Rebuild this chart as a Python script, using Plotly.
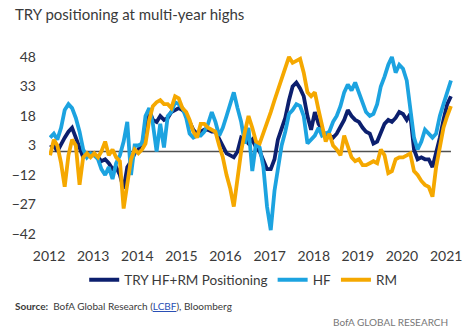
import pandas as pd
import plotly.graph_objects as go

# Monthly observations, Jan 2012 .. Feb 2021
dates = pd.date_range("2012-01-01", periods=110, freq="MS") + pd.Timedelta(days=9)

# TRY positioning, HF + RM composite
combined = [
    2, 3, 0, 4, 7, 10, 12, 7, 2, -3, -2, -1,            # 2012
    -2, -3, -5, -4, -6, -9, -8, -12, -19, -8, -5, -1,   # 2013
    1, 4, 12, 21, 16, 15, 18, 16, 17, 20, 21, 22,       # 2014
    21, 19, 15, 11, 9, 10, 11, 11, 10, 10, 6, 2,        # 2015
    -1, -2, -3, 0, 7, 6, 4, 6, 2, 0, -5, -9,            # 2016
    -9, -4, 6, 11, 17, 26, 33, 35, 32, 28, 18, 11,      # 2017
    20, 14, 11, 8, 8, 7, 9, 13, 16, 21, 18, 16,         # 2018
    15, 12, 10, 9, 4, 5, 9, 14, 16, 15, 17, 20,         # 2019
    19, 16, 19, 1, -4, -3, -4, -4, -8, -1, 7, 16,       # 2020
    24, 28,                                             # 2021
]

# Hedge funds
hf = [
    7, 9, 6, 12, 21, 24, 22, 17, 10, 1, -3, -1,         # 2012
    -2, -4, -9, -12, -8, -14, -6, -2, 5, 15, -12, 3,    # 2013
    3, 4, 18, 22, 14, 0, 14, 2, 18, 20, 25, 24,         # 2014
    22, 17, 9, 7, 8, 8, 10, 14, 20, 15, 8, 12,          # 2015
    18, 24, 30, 22, 15, 4, 12, -10, 4, 2, -8, -28,      # 2016
    -40, -20, -8, 3, 10, 19, 21, 24, 23, 18, 4, 6,      # 2017
    8, 12, 8, 9, 10, 15, 18, 23, 30, 34, 31, 35,        # 2018
    30, 24, 20, 18, 19, 24, 33, 38, 44, 48, 40, 44,     # 2019
    42, 36, 21, 7, 1, 5, 11, 9, 7, 9, 18, 24,           # 2020
    30, 36,                                             # 2021
]

# Real money
rm = [
    -2, 6, 3, -6, -18, -2, 6, 3, -17, -3, -1, -3,       # 2012
    -1, -3, 0, 5, -2, 1, -3, -5, -29, -15, -4, 1,       # 2013
    -1, 1, 4, 16, 23, 25, 26, 24, 24, 22, 28, 27,       # 2014
    22, 20, 16, 10, 7, 14, 14, 12, 11, 10, 3, -3,       # 2015
    -12, -19, -28, -12, 0, 10, 18, 12, 5, 4, 9, 14,     # 2016
    20, 26, 31, 38, 43, 48, 45, 46, 47, 40, 30, 28,     # 2017
    30, 21, 13, 5, 9, 3, 1, -2, 8, 2, -3, -5,           # 2018
    -4, -7, -7, -6, -5, -6, 1, -2, -11, -10, -4, -3,    # 2019
    -3, -2, -1, -10, -12, -15, -17, -18, -23, -8, 3, 12,  # 2020
    18, 23,                                             # 2021
]

y_ticks = [-42, -27, -12, 3, 18, 33, 48]
x_ticks = [f"{y}-01-01" for y in range(2012, 2022)]
x_tick_labels = [str(y) for y in range(2012, 2022)]

NAVY = "#0c1f6e"
SKY = "#1ca3e0"
GOLD = "#f5a800"
TEXT = "#3a3a3a"
FONT = "Lato"

fig = go.Figure()
fig.add_trace(go.Scatter(x=dates, y=combined, name="TRY HF+RM Positioning",
                         mode="lines", line=dict(color=NAVY, width=3.8)))
fig.add_trace(go.Scatter(x=dates, y=hf, name="HF",
                         mode="lines", line=dict(color=SKY, width=3.8)))
fig.add_trace(go.Scatter(x=dates, y=rm, name="RM",
                         mode="lines", line=dict(color=GOLD, width=3.8)))

# zero reference line spanning the data
fig.add_shape(type="line", xref="x", yref="y",
              x0=dates[0], x1=dates[-1], y0=0, y1=0,
              line=dict(color="#505050", width=1.5), layer="below")

fig.update_layout(
    width=474, height=330,
    margin=dict(l=45, r=13, t=53, b=92),
    paper_bgcolor="white", plot_bgcolor="white",
    font=dict(family=FONT, size=14, color=TEXT),
    showlegend=True,
    legend=dict(orientation="h", xanchor="center", x=0.476,
                yanchor="middle", y=-0.227, font=dict(size=13.5, color=TEXT),
                itemwidth=30, tracegroupgap=0, bgcolor="rgba(0,0,0,0)"),
    xaxis=dict(type="date", range=["2012-01-01", "2021-04-01"],
               tickvals=x_ticks, ticktext=x_tick_labels,
               showgrid=False, zeroline=False, showline=False,
               ticks="", ticklabelstandoff=8,
               tickfont=dict(size=14, color=TEXT)),
    yaxis=dict(range=[-44, 50], tickvals=y_ticks,
               showgrid=False, zeroline=False, showline=False,
               ticks="", ticklabelstandoff=12,
               tickfont=dict(size=14, color=TEXT)),
    annotations=[
        dict(text="TRY positioning at multi-year highs", xref="paper", yref="paper",
             x=-0.0889, y=1.2108, xanchor="left", yanchor="middle",
             showarrow=False, font=dict(size=15, color=TEXT)),
        dict(text="<b>Source:</b>  BofA Global Research (<span style='color:#2a4fb5;text-decoration:underline'>LCBF</span>), Bloomberg",
             xref="paper", yref="paper", x=-0.0889, y=-0.3676,
             xanchor="left", yanchor="middle", showarrow=False,
             font=dict(size=10, color=TEXT)),
        dict(text="BofA GLOBAL RESEARCH", xref="paper", yref="paper",
             x=0.983, y=-0.454, xanchor="right", yanchor="middle",
             showarrow=False, font=dict(size=10, color="#777777")),
    ],
)

fig.write_html("out.html")
